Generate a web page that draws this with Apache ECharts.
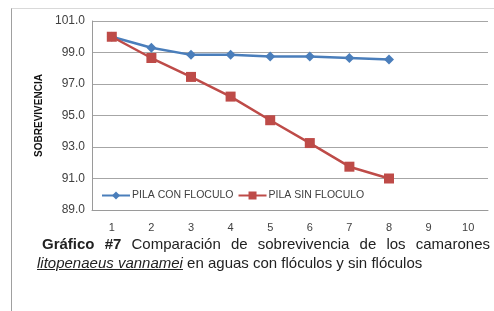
<!DOCTYPE html>
<html>
<head>
<meta charset="utf-8">
<script src="https://cdn.jsdelivr.net/npm/echarts@6/dist/echarts.min.js"></script>
<style>
  html, body { margin: 0; padding: 0; background: #fff; }
  #wrap { position: relative; width: 494px; height: 311px; overflow: hidden; }
  #frame { position: absolute; left: 11px; top: 8px; width: 490px; height: 310px;
           border-left: 1px solid #a0a0a0; border-top: 1px solid #d9d9d9; }
  #chart { position: absolute; left: 0; top: 0; width: 494px; height: 240px; }
  .cap { position: absolute; font-family: "Liberation Sans", Arial, sans-serif; font-size: 15px; color: #222; }
  #cap1 { left: 42px; top: 235px; width: 448px; text-align: justify; text-align-last: justify; }
  #cap2 { left: 37px; top: 254px; }
</style>
</head>
<body>
<div id="wrap">
  <div id="frame"></div>
  <div id="chart"></div>
  <div class="cap" id="cap1"><b>Gráfico #7</b> Comparación de sobrevivencia de los camarones</div>
  <div class="cap" id="cap2"><i><u>litopenaeus vannamei</u></i> en aguas con flóculos y sin flóculos</div>
</div>
<script>
// datos
const dias = ['1', '2', '3', '4', '5', '6', '7', '8', '9', '10'];
const conFloculo = [100.0, 99.3, 98.85, 98.85, 98.75, 98.75, 98.65, 98.55];
const sinFloculo = [100.0, 98.65, 97.45, 96.2, 94.7, 93.25, 91.75, 91.0];

const chart = echarts.init(document.getElementById('chart'));
chart.setOption({
  animation: false,
  grid: { left: 92, right: 6, top: 21, bottom: 30 },
  legend: {
    left: 96, top: 185,
    itemWidth: 28, itemHeight: 10, itemGap: 4,
    textStyle: { fontFamily: 'Liberation Sans', fontSize: 10.5, color: '#404040', padding: [0, 0, 0, -3] },
    data: ['PILA CON FLOCULO', 'PILA SIN FLOCULO']
  },
  xAxis: {
    type: 'category',
    data: dias,
    boundaryGap: true,
    axisLine: { lineStyle: { color: '#9a9a9a' } },
    axisTick: { show: false },
    axisLabel: { fontFamily: 'Liberation Sans', fontSize: 11, color: '#404040', margin: 12 }
  },
  yAxis: {
    type: 'value',
    min: 89, max: 101, interval: 2,
    name: 'SOBREVIVENCIA',
    nameLocation: 'middle',
    nameGap: 44,
    nameTextStyle: { fontFamily: 'Liberation Sans', fontSize: 10, fontWeight: 'bold', color: '#111' },
    axisLine: { show: true, lineStyle: { color: '#9a9a9a' } },
    axisTick: { show: false },
    splitLine: { lineStyle: { color: '#a6a6a6' } },
    axisLabel: {
      fontFamily: 'Liberation Sans', fontSize: 12, color: '#404040', margin: 7,
      formatter: v => v.toFixed(1)
    }
  },
  series: [
    {
      name: 'PILA CON FLOCULO', type: 'line', data: conFloculo,
      symbol: 'diamond', symbolSize: 10,
      lineStyle: { color: '#4a7ebb', width: 2.5 },
      itemStyle: { color: '#4a7ebb' }
    },
    {
      name: 'PILA SIN FLOCULO', type: 'line', data: sinFloculo,
      symbol: 'rect', symbolSize: 10,
      lineStyle: { color: '#be4b48', width: 2.5 },
      itemStyle: { color: '#be4b48' }
    }
  ]
});
</script>
</body>
</html>
